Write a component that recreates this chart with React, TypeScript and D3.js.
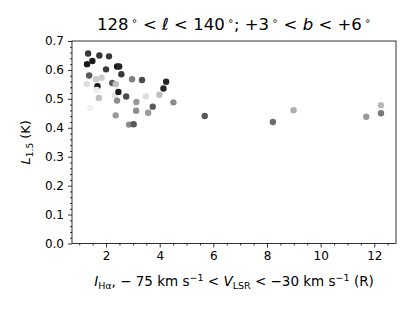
import React, { useEffect, useRef } from 'react'
import * as d3 from 'd3'

// I_Halpha (R), L_1.5 (K) and a third quantity shown as grey level (0 = black, 1 = white)
const iHa = [1.33, 1.75, 2.11, 1.29, 1.49, 2.41, 2.49, 2.00, 2.57, 1.37, 1.63, 1.83, 2.97, 3.34, 4.24, 4.14,
  1.28, 1.68, 2.23, 2.36, 1.65, 2.33, 2.46, 2.75, 1.73, 2.41, 3.13, 3.48, 3.99, 4.51, 1.41, 3.12, 3.74,
  3.57, 2.36, 2.86, 3.03, 5.68, 8.22, 8.99, 11.70, 12.25, 12.25]
const l15 = [0.657, 0.650, 0.647, 0.620, 0.631, 0.612, 0.612, 0.602, 0.585, 0.581, 0.568, 0.573, 0.568, 0.565, 0.559, 0.536,
  0.551, 0.544, 0.555, 0.551, 0.531, 0.512, 0.524, 0.508, 0.503, 0.494, 0.489, 0.508, 0.514, 0.488, 0.468, 0.459, 0.473,
  0.452, 0.443, 0.411, 0.412, 0.441, 0.420, 0.461, 0.438, 0.478, 0.450]
const shade = [0.22, 0.22, 0.22, 0.1, 0.1, 0.1, 0.15, 0.22, 0.22, 0.35, 0.8, 0.8, 0.5, 0.3, 0.15, 0.15,
  0.87, 0.1, 0.35, 0.75, 0.93, 0.89, 0.1, 0.3, 0.75, 0.55, 0.6, 0.87, 0.75, 0.55, 0.94, 0.55, 0.35,
  0.6, 0.6, 0.55, 0.35, 0.35, 0.42, 0.68, 0.6, 0.73, 0.48]

const xMajor = [2, 4, 6, 8, 10, 12]
const yMajor = [0, 0.1, 0.2, 0.3, 0.4, 0.5, 0.6, 0.7]

const W = 415
const H = 312
const margin = { top: 41, right: 19, bottom: 68.5, left: 72 }
const font = 'DejaVu Sans, sans-serif'

const App = () => {
  const ref = useRef(null)

  const x = d3.scaleLinear().domain([0.73, 12.81]).range([margin.left, W - margin.right])
  const y = d3.scaleLinear().domain([0, 0.7]).range([H - margin.bottom, margin.top])
  const grey = d3.scaleLinear<string>().domain([0, 1]).range(['#000', '#fff'])

  useEffect(() => {
    const svg = d3.select(ref.current)
    svg.selectAll('*').remove()

    const xMinor = d3.range(1, 13, 0.5).filter(v => !xMajor.includes(v))
    const yMinor = d3.range(0, 0.701, 0.02).map(v => +v.toFixed(2)).filter(v => !yMajor.some(m => Math.abs(m - v) < 1e-6))

    const styleAxis = g => g
      .call(g => g.select('.domain').remove())
      .call(g => g.selectAll('.tick line').attr('stroke', '#000').attr('stroke-width', 0.8))
      .call(g => g.selectAll('.tick text').attr('font-family', font).attr('font-size', 12).attr('fill', '#000'))

    svg.append('g')
      .attr('transform', `translate(0,${H - margin.bottom})`)
      .call(d3.axisBottom(x).tickValues(xMinor).tickSize(2).tickFormat(() => ''))
      .call(styleAxis)
    svg.append('g')
      .attr('transform', `translate(0,${H - margin.bottom})`)
      .call(d3.axisBottom(x).tickValues(xMajor).tickSize(4).tickPadding(4).tickFormat(d3.format('d')))
      .call(styleAxis)

    svg.append('g')
      .attr('transform', `translate(${margin.left},0)`)
      .call(d3.axisLeft(y).tickValues(yMinor).tickSize(2).tickFormat(() => ''))
      .call(styleAxis)
    svg.append('g')
      .attr('transform', `translate(${margin.left},0)`)
      .call(d3.axisLeft(y).tickValues(yMajor).tickSize(4).tickPadding(4).tickFormat(d3.format('.1f')))
      .call(styleAxis)

    svg.append('g')
      .selectAll('circle')
      .data(iHa.map((v, i) => i))
      .join('circle')
      .attr('cx', i => x(iHa[i]))
      .attr('cy', i => y(l15[i]))
      .attr('r', 3.2)
      .attr('fill', i => grey(shade[i]))

    svg.append('rect')
      .attr('x', margin.left)
      .attr('y', margin.top)
      .attr('width', W - margin.left - margin.right)
      .attr('height', H - margin.top - margin.bottom)
      .attr('fill', 'none')
      .attr('stroke', '#000')
      .attr('stroke-width', 0.8)
  }, [])

  const cx = (margin.left + W - margin.right) / 2

  return (
    <svg width={W} height={H} style={{ position: 'absolute', left: 0, top: 0 }}>
      <g ref={ref} />
      <text x={cx} y={30} textAnchor='middle' fontFamily={font} fontSize={16.5} fill='#000'>
        <tspan>128</tspan>
        <tspan dx={3} dy={-6} fontSize={10}>∘</tspan>
        <tspan dy={6}> &lt; </tspan>
        <tspan fontStyle='italic'>ℓ</tspan>
        <tspan> &lt; 140</tspan>
        <tspan dx={3} dy={-6} fontSize={10}>∘</tspan>
        <tspan dy={6}>; +3</tspan>
        <tspan dx={3} dy={-6} fontSize={10}>∘</tspan>
        <tspan dy={6}> &lt; </tspan>
        <tspan fontStyle='italic'>b</tspan>
        <tspan> &lt; +6</tspan>
        <tspan dx={3} dy={-6} fontSize={10}>∘</tspan>
      </text>
      <text x={cx} y={286} textAnchor='middle' fontFamily={font} fontSize={13.5} fill='#000'>
        <tspan fontStyle='italic'>I</tspan>
        <tspan dy={3} fontSize={9.5}>Hα</tspan>
        <tspan dy={-3}>,  − 75 km s</tspan>
        <tspan dy={-5} fontSize={9.5}>−1</tspan>
        <tspan dy={5}> &lt; </tspan>
        <tspan fontStyle='italic'>V</tspan>
        <tspan dy={3} fontSize={9.5}>LSR</tspan>
        <tspan dy={-3}> &lt; −30 km s</tspan>
        <tspan dy={-5} fontSize={9.5}>−1</tspan>
        <tspan dy={5}> (R)</tspan>
      </text>
      <text transform={`translate(30,${(margin.top + H - margin.bottom) / 2}) rotate(-90)`} textAnchor='middle'
        fontFamily={font} fontSize={13} fill='#000'>
        <tspan fontStyle='italic'>L</tspan>
        <tspan dy={3} fontSize={9}>1.5</tspan>
        <tspan dy={-3}> (K)</tspan>
      </text>
    </svg>
  )
}

export default App
